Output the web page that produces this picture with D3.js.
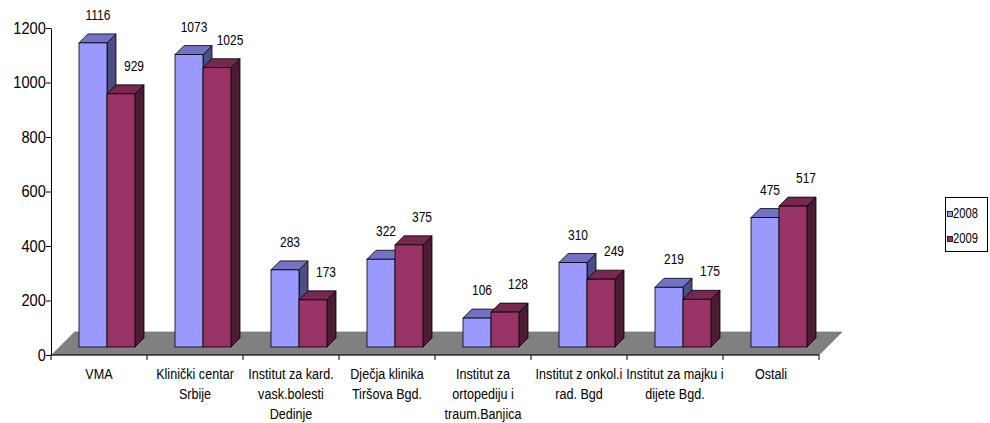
<!DOCTYPE html>
<html>
<head>
<meta charset="utf-8">
<script src="https://cdn.jsdelivr.net/npm/d3@7"></script>
<style>
	body { margin: 0; background: #fff; }
	text { font-family: "Liberation Sans Narrow", "Arial Narrow", "Liberation Sans", Arial, sans-serif; fill: #000; }
</style>
</head>
<body>
<div id="chart"></div>
<script>
var W = 990, H = 423;

var categories = ["VMA", "Klinički centar\nSrbije", "Institut za kard.\nvask.bolesti\nDedinje",
	"Dječja klinika\nTiršova Bgd.", "Institut za\nortopediju i\ntraum.Banjica",
	"Institut z onkol.i\nrad. Bgd", "Institut za majku i\ndijete Bgd.", "Ostali"];
var s2008 = [1116, 1073, 283, 322, 106, 310, 219, 475];
var s2009 = [929, 1025, 173, 375, 128, 249, 175, 517];
var years = ["2008", "2009"];
var yTicks = [0, 200, 400, 600, 800, 1000, 1200];

var colors = {
	"2008": { front: "#9999ff", top: "#7373c4", side: "#4d4d85" },
	"2009": { front: "#993366", top: "#772850", side: "#4c1a33" }
};

var barW = 28;      // front face width
var dep = 9;        // bar depth (projected)
var off = 8;        // bar front offset from axis plane
var floorD = 23;    // floor depth
var narrow = 0.82;  // no Arial Narrow here, so squeeze the text

var svg = d3.select("#chart").append("svg")
	.attr("width", W)
	.attr("height", H);

var x = d3.scaleBand().domain(categories).range([51, 819]).padding(0);
var y = d3.scaleLinear().domain([0, 1200]).range([355, 28]);

// squeezed text at (tx, ty)
function label(parent, tx, ty, str, size, anchor, sx) {
	return parent.append("text")
		.attr("transform", "translate(" + tx + "," + ty + ") scale(" + (sx || narrow) + ",1)")
		.attr("text-anchor", anchor || "middle")
		.style("font-size", size + "px")
		.text(str);
}

// floor
var x0 = x.range()[0], x1 = x.range()[1], y0 = y(0);
svg.append("polygon")
	.attr("points", [[x0, y0], [x1, y0], [x1 + floorD, y0 - floorD], [x0 + floorD, y0 - floorD]].join(" "))
	.attr("fill", "#808080")
	.attr("stroke", "#6a6a6a")
	.attr("stroke-width", 0.6);
svg.append("line")
	.attr("x1", x0).attr("y1", y0)
	.attr("x2", x0 + floorD).attr("y2", y0 - floorD)
	.attr("stroke", "#d8d8d8")
	.attr("stroke-width", 1);

// bars
var series = [s2008, s2009];
var bars = [];
categories.forEach(function(c, i) {
	var cx = x(c) + x.bandwidth() / 2;
	series.forEach(function(ser, k) {
		bars.push({ k: k, year: years[k], v: ser[i], left: cx + off - barW + k * barW });
	});
});

function face(pts) { return pts.map(function(p) { return p.join(","); }).join(" "); }

var g = svg.append("g");
bars.forEach(function(d) {
	var l = d.left, r = d.left + barW;
	var top = y(d.v) - off, bot = y(0) - off;
	var col = colors[d.year];
	g.append("polygon")
		.attr("points", face([[r, bot], [r + dep, bot - dep], [r + dep, top - dep], [r, top]]))
		.attr("fill", col.side).attr("stroke", "#000").attr("stroke-width", 0.8);
	g.append("polygon")
		.attr("points", face([[l, top], [l + dep, top - dep], [r + dep, top - dep], [r, top]]))
		.attr("fill", col.top).attr("stroke", "#000").attr("stroke-width", 0.8);
	g.append("rect")
		.attr("x", l).attr("y", top)
		.attr("width", barW).attr("height", bot - top)
		.attr("fill", col.front).attr("stroke", "#000").attr("stroke-width", 0.8);
	label(g, l + barW / 2 + (d.k ? 13 : 5), top - dep - 14, d.v, 15, "middle", 0.8);
});

// y axis
var yAxis = svg.append("g")
	.attr("transform", "translate(51,0)")
	.call(d3.axisLeft(y).tickValues(yTicks).tickFormat(d3.format("d")).tickSize(5).tickSizeOuter(0).tickPadding(1));
yAxis.select(".domain").attr("stroke", "#000");
yAxis.selectAll("text")
	.style("font-size", "17px")
	.style("font-family", null)
	.attr("transform", "scale(0.86,1)");

// x axis
var bounds = categories.map(function(c) { return x(c); }).concat([x1]);
svg.append("line")
	.attr("x1", x0).attr("y1", y0).attr("x2", x1).attr("y2", y0)
	.attr("stroke", "#000");
svg.selectAll(".xtick")
	.data(bounds)
	.enter()
	.append("line")
	.attr("x1", d => d).attr("x2", d => d)
	.attr("y1", y0).attr("y2", y0 + 5)
	.attr("stroke", "#000");

categories.forEach(function(c) {
	c.split("\n").forEach(function(line, j) {
		label(svg, x(c) + x.bandwidth() / 2, 379 + j * 20, line, 15, "middle", 0.84);
	});
});

// legend
var leg = svg.append("g");
leg.append("rect")
	.attr("x", 945.5).attr("y", 197.5)
	.attr("width", 42).attr("height", 54)
	.attr("fill", "#fff").attr("stroke", "#000").attr("stroke-width", 1);
years.forEach(function(yr, k) {
	leg.append("rect")
		.attr("x", 947.5).attr("y", 211.5 + k * 25)
		.attr("width", 5).attr("height", 5)
		.attr("fill", colors[yr].front).attr("stroke", "#000").attr("stroke-width", 0.8);
	label(leg, 953, 218 + k * 25, yr, 14, "start", 0.8);
});
</script>
</body>
</html>
